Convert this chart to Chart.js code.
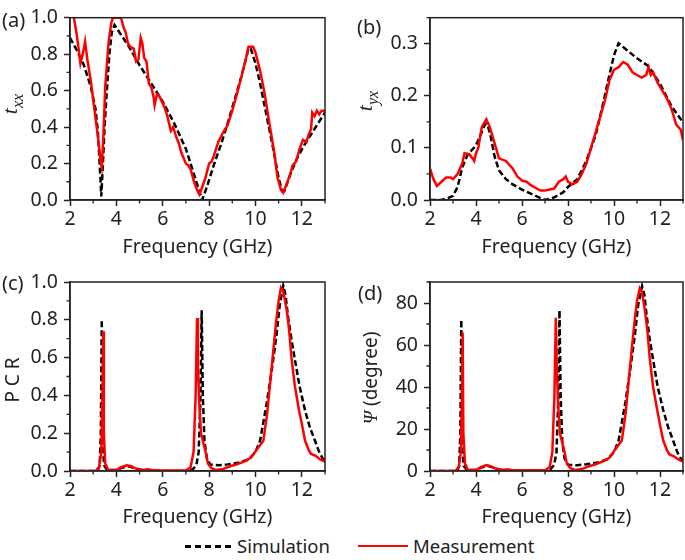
<!DOCTYPE html>
<html>
<head>
<meta charset="utf-8">
<script src="https://cdn.jsdelivr.net/npm/chart.js@4.4.1/dist/chart.umd.min.js"></script>
<style>
    body { margin: 0; width: 685px; height: 560px; position: relative; overflow: hidden;
           background: #fff; color: #222; font-family: "Noto Sans", sans-serif; }
    .cell { position: absolute; }
    .tag { position: absolute; font-size: 20px; line-height: 20px; }
    .ytitle { position: absolute; transform: translate(-50%, -50%) rotate(-90deg);
              white-space: nowrap; font-size: 19px; line-height: 20px; }
    .serif { font-family: "Liberation Serif", serif; font-style: italic; }
    .legline { position: absolute; }
    .legtext { position: absolute; font-size: 18.5px; line-height: 20px; }
</style>
</head>
<body>
<div class="cell" style="left:0;top:0;width:335px;height:260px"><canvas id="chartA"></canvas></div>
<div class="cell" style="left:345px;top:0;width:340px;height:260px"><canvas id="chartB"></canvas></div>
<div class="cell" style="left:0;top:260px;width:335px;height:270px"><canvas id="chartC"></canvas></div>
<div class="cell" style="left:345px;top:260px;width:340px;height:270px"><canvas id="chartD"></canvas></div>

<div class="tag" style="left:2px;top:10px">(a)</div>
<div class="tag" style="left:357px;top:17px">(b)</div>
<div class="tag" style="left:2px;top:273px">(c)</div>
<div class="tag" style="left:358px;top:283px">(d)</div>

<div class="ytitle serif" style="left:14px;top:104px;font-size:22px">t<sub style="font-size:16px">xx</sub></div>
<div class="ytitle serif" style="left:369px;top:101px;font-size:22px">t<sub style="font-size:16px">yx</sub></div>
<div class="ytitle" style="left:12px;top:380px">P C R</div>
<div class="ytitle" style="left:370px;top:378px"><span class="serif">&Psi;</span> (degree)</div>

<div class="legline" style="left:185px;top:545px;width:48px;height:2.5px;background:repeating-linear-gradient(90deg,#000 0 6.5px,transparent 6.5px 10px)"></div>
<div class="legtext" style="left:237px;top:536px">Simulation</div>
<div class="legline" style="left:358px;top:545px;width:50px;height:2px;background:#f00"></div>
<div class="legtext" style="left:413px;top:536px">Measurement</div>

<script>
const FONT = '"Noto Sans", sans-serif';
const INK = '#222';

// frequency axis, shared by all four panels
const xTicks = [2, 4, 6, 8, 10, 12];
const xMinor = [3, 5, 7, 9, 11, 13];

// (a) t_xx
const aSimFreq = [2.0, 2.3, 2.6, 2.9, 3.1, 3.2, 3.28, 3.35, 3.42, 3.5, 3.6, 3.7, 3.8, 3.92, 4.5, 5.0, 5.5, 6.0, 6.5, 7.0, 7.3, 7.5, 7.7, 7.9, 8.2, 8.5, 8.8, 9.1, 9.4, 9.6, 9.7, 9.8, 10.0, 10.2, 10.5, 10.8, 11.0, 11.15, 11.25, 11.5, 11.8, 12.1, 12.4, 12.7, 13.0];
const aSim = [0.89, 0.82, 0.74, 0.62, 0.5, 0.38, 0.2, 0.02, 0.2, 0.42, 0.62, 0.8, 0.92, 0.96, 0.85, 0.74, 0.64, 0.54, 0.42, 0.28, 0.16, 0.08, 0.0, 0.07, 0.19, 0.3, 0.42, 0.55, 0.68, 0.78, 0.83, 0.83, 0.75, 0.64, 0.45, 0.26, 0.12, 0.05, 0.05, 0.14, 0.23, 0.3, 0.36, 0.42, 0.48];
const aMeasFreq = [2.0, 2.17, 2.3, 2.45, 2.55, 2.65, 2.75, 2.9, 3.1, 3.25, 3.33, 3.37, 3.44, 3.52, 3.66, 3.78, 3.85, 4.0, 4.2, 4.3, 4.4, 4.5, 4.6, 4.75, 4.85, 4.95, 5.05, 5.12, 5.2, 5.3, 5.4, 5.5, 5.6, 5.65, 5.75, 5.85, 6.0, 6.1, 6.2, 6.35, 6.45, 6.6, 6.7, 6.8, 7.0, 7.1, 7.2, 7.35, 7.5, 7.58, 7.7, 7.85, 8.0, 8.1, 8.2, 8.4, 8.6, 8.8, 9.0, 9.2, 9.4, 9.6, 9.7, 9.9, 10.0, 10.2, 10.4, 10.6, 10.8, 10.95, 11.1, 11.2, 11.35, 11.5, 11.6, 11.75, 11.9, 12.05, 12.2, 12.3, 12.4, 12.45, 12.55, 12.65, 12.75, 12.85, 12.95, 13.0];
const aMeas = [1.08, 1.0, 0.9, 0.75, 0.8, 0.87, 0.77, 0.65, 0.45, 0.3, 0.2, 0.18, 0.35, 0.62, 0.86, 0.97, 1.0, 1.0, 1.0, 0.95, 0.92, 0.86, 0.84, 0.83, 0.76, 0.77, 0.89, 0.86, 0.78, 0.76, 0.64, 0.62, 0.57, 0.52, 0.58, 0.57, 0.53, 0.5, 0.46, 0.38, 0.4, 0.34, 0.31, 0.26, 0.2, 0.19, 0.17, 0.1, 0.05, 0.03, 0.07, 0.125, 0.2, 0.21, 0.24, 0.32, 0.37, 0.41, 0.49, 0.58, 0.68, 0.78, 0.84, 0.84, 0.81, 0.71, 0.58, 0.42, 0.27, 0.125, 0.055, 0.04, 0.09, 0.14, 0.19, 0.21, 0.28, 0.33, 0.32, 0.36, 0.39, 0.48, 0.46, 0.49, 0.47, 0.49, 0.49, 0.48];

// (b) t_yx
const bSimFreq = [2.0, 2.5, 2.8, 3.0, 3.2, 3.4, 3.6, 3.8, 4.0, 4.2, 4.4, 4.5, 4.65, 4.8, 5.0, 5.3, 5.6, 6.0, 6.5, 7.0, 7.4, 7.8, 8.0, 8.4, 8.8, 9.2, 9.5, 9.8, 10.0, 10.2, 10.5, 11.0, 11.5, 12.0, 12.5, 13.0];
const bSim = [0.0, 0.0, 0.004, 0.008, 0.025, 0.062, 0.084, 0.095, 0.105, 0.125, 0.146, 0.145, 0.12, 0.085, 0.057, 0.04, 0.03, 0.02, 0.01, 0.0, 0.005, 0.015, 0.025, 0.04, 0.075, 0.124, 0.18, 0.24, 0.278, 0.301, 0.29, 0.272, 0.257, 0.223, 0.18, 0.149];
const bMeasFreq = [2.0, 2.15, 2.3, 2.5, 2.7, 2.9, 3.0, 3.2, 3.4, 3.5, 3.7, 3.85, 3.92, 4.0, 4.1, 4.25, 4.45, 4.6, 4.8, 5.0, 5.3, 5.6, 5.8, 6.0, 6.2, 6.4, 6.6, 6.8, 7.0, 7.2, 7.4, 7.6, 7.8, 7.9, 8.0, 8.2, 8.4, 8.6, 8.8, 9.0, 9.2, 9.4, 9.6, 9.8, 10.0, 10.2, 10.4, 10.6, 10.8, 11.0, 11.2, 11.4, 11.5, 11.6, 11.7, 11.9, 12.1, 12.3, 12.5, 12.7, 12.9, 13.0];
const bMeas = [0.06, 0.04, 0.027, 0.035, 0.043, 0.043, 0.04, 0.05, 0.07, 0.09, 0.088, 0.08, 0.075, 0.09, 0.1, 0.14, 0.155, 0.14, 0.11, 0.08, 0.075, 0.06, 0.045, 0.037, 0.035, 0.028, 0.023, 0.018, 0.018, 0.02, 0.022, 0.035, 0.04, 0.045, 0.035, 0.03, 0.035, 0.05, 0.07, 0.1, 0.13, 0.16, 0.19, 0.23, 0.25, 0.255, 0.265, 0.26, 0.245, 0.24, 0.235, 0.24, 0.255, 0.24, 0.245, 0.225, 0.21, 0.195, 0.175, 0.145, 0.135, 0.115];

// (c) PCR
const cSimFreq = [2.0, 3.0, 3.2, 3.28, 3.33, 3.37, 3.41, 3.47, 3.6, 4.0, 4.2, 4.5, 4.8, 5.0, 6.0, 7.0, 7.3, 7.45, 7.55, 7.62, 7.68, 7.73, 7.8, 7.9, 8.04, 8.4, 8.8, 9.3, 9.7, 10.0, 10.2, 10.5, 10.7, 10.9, 11.05, 11.2, 11.3, 11.4, 11.55, 11.7, 11.9, 12.14, 12.35, 12.57, 12.75, 12.93, 13.0];
const cSim = [0, 0, 0.005, 0.03, 0.2, 0.8, 0.15, 0.03, 0.005, 0.005, 0.015, 0.025, 0.015, 0.008, 0, 0, 0.01, 0.03, 0.1, 0.35, 0.85, 0.4, 0.16, 0.07, 0.035, 0.03, 0.035, 0.045, 0.06, 0.1, 0.16, 0.37, 0.53, 0.71, 0.88, 0.98, 0.93, 0.82, 0.7, 0.59, 0.45, 0.32, 0.23, 0.16, 0.1, 0.06, 0.05];
const cMeasFreq = [2.0, 3.1, 3.25, 3.35, 3.4, 3.43, 3.46, 3.52, 3.65, 4.0, 4.2, 4.45, 4.65, 4.85, 5.0, 5.4, 5.6, 6.0, 6.5, 7.0, 7.2, 7.33, 7.42, 7.48, 7.52, 7.58, 7.65, 7.75, 7.85, 7.95, 8.1, 8.3, 8.6, 8.9, 9.2, 9.5, 9.8, 10.1, 10.34, 10.5, 10.7, 10.9, 11.0, 11.1, 11.2, 11.35, 11.45, 11.56, 11.7, 11.88, 12.0, 12.14, 12.3, 12.4, 12.6, 12.8, 13.0];
const cMeas = [0, 0, 0.02, 0.1, 0.4, 0.74, 0.2, 0.04, 0.005, 0.005, 0.02, 0.03, 0.025, 0.012, 0.005, 0.008, 0.004, 0.003, 0.003, 0.003, 0.02, 0.1, 0.4, 0.81, 0.55, 0.35, 0.2, 0.15, 0.1, 0.04, 0.015, 0.005, 0.01, 0.025, 0.035, 0.05, 0.07, 0.12, 0.16, 0.3, 0.55, 0.8, 0.9, 0.97, 0.95, 0.85, 0.75, 0.59, 0.45, 0.32, 0.25, 0.16, 0.11, 0.09, 0.08, 0.06, 0.05];

// (d) polarization rotation angle, degree
const dSimFreq = [2.0, 3.0, 3.2, 3.27, 3.32, 3.36, 3.4, 3.46, 3.6, 4.0, 4.2, 4.5, 4.8, 5.0, 6.0, 7.0, 7.25, 7.4, 7.5, 7.57, 7.63, 7.68, 7.75, 7.85, 8.0, 8.4, 8.8, 9.3, 9.7, 10.0, 10.2, 10.5, 10.7, 10.9, 11.05, 11.22, 11.32, 11.42, 11.55, 11.7, 11.9, 12.14, 12.35, 12.57, 12.75, 12.93, 13.0];
const dSim = [0, 0, 0.5, 2.5, 18, 72, 13, 2.5, 0.5, 0.5, 1.5, 2.5, 1.5, 0.7, 0, 0, 1, 3, 9, 32, 76.5, 36, 14, 6, 3, 2.7, 3.2, 4, 5.5, 9, 14.5, 33, 48, 64, 79, 88, 84, 74, 63, 53, 40, 29, 21, 14.5, 9, 5.5, 4.5];
const dMeasFreq = [2.0, 3.1, 3.25, 3.34, 3.39, 3.42, 3.45, 3.52, 3.65, 4.0, 4.2, 4.45, 4.65, 4.85, 5.0, 5.4, 5.6, 6.0, 6.5, 7.0, 7.2, 7.32, 7.41, 7.47, 7.51, 7.57, 7.65, 7.75, 7.85, 7.95, 8.1, 8.3, 8.6, 8.9, 9.2, 9.5, 9.8, 10.1, 10.34, 10.5, 10.7, 10.9, 11.0, 11.12, 11.22, 11.35, 11.45, 11.56, 11.7, 11.88, 12.0, 12.14, 12.3, 12.4, 12.6, 12.8, 13.0];
const dMeas = [0, 0, 2, 9, 36, 66, 18, 3.5, 0.5, 0.5, 1.8, 2.8, 2.2, 1.1, 0.5, 0.7, 0.4, 0.3, 0.3, 0.3, 1.8, 9, 36, 73, 50, 32, 18, 13.5, 9, 3.5, 1.3, 0.5, 0.9, 2.2, 3.2, 4.5, 6.3, 11, 14.5, 27, 50, 72, 81, 87, 85, 76, 67, 53, 40, 29, 22, 14.5, 10, 8, 7, 5.5, 4.5];

const unitTicks = [0, 0.2, 0.4, 0.6, 0.8, 1.0];
const unitMinor = [0.1, 0.3, 0.5, 0.7, 0.9];
const bTicks = [0, 0.1, 0.2, 0.3];
const bMinor = [0.05, 0.15, 0.25, 0.35];
const dTicks = [0, 20, 40, 60, 80];
const dMinor = [10, 30, 50, 70, 90];

// box around the plot + short minor ticks
const framePlugin = {
    id: 'frame',
    afterDraw(chart, args, opts) {
        const { ctx, chartArea: a } = chart;
        const x = chart.scales.x, y = chart.scales.y;
        ctx.save();
        ctx.strokeStyle = INK;
        ctx.lineWidth = 1.5;
        ctx.strokeRect(a.left, a.top, a.right - a.left, a.bottom - a.top);
        ctx.lineWidth = 1.3;
        ctx.beginPath();
        opts.xMinor.forEach(v => {
            const px = x.getPixelForValue(v);
            ctx.moveTo(px, a.bottom);
            ctx.lineTo(px, a.bottom + 3.5);
        });
        opts.yMinor.forEach(v => {
            const py = y.getPixelForValue(v);
            ctx.moveTo(a.left, py);
            ctx.lineTo(a.left - 3.5, py);
        });
        ctx.stroke();
        ctx.restore();
    }
};

function pairs(xs, ys) {
    return xs.map((f, i) => ({ x: f, y: ys[i] }));
}

function makePanel(id, p) {
    new Chart(document.getElementById(id), {
        type: 'line',
        data: {
            datasets: [
                {
                    label: 'Measurement',
                    data: pairs(p.measFreq, p.meas),
                    borderColor: '#ff0000',
                    borderWidth: 2.5,
                    pointRadius: 0,
                    tension: 0
                },
                {
                    label: 'Simulation',
                    data: pairs(p.simFreq, p.sim),
                    borderColor: '#000000',
                    borderWidth: 2.5,
                    borderDash: [6, 3],
                    pointRadius: 0,
                    tension: 0
                }
            ]
        },
        options: {
            responsive: true,
            maintainAspectRatio: false,
            animation: false,
            layout: { padding: { top: p.padTop, right: p.padRight, left: 0, bottom: 0 } },
            plugins: {
                legend: { display: false },
                tooltip: { enabled: false },
                frame: { xMinor: xMinor, yMinor: p.yMinor }
            },
            scales: {
                x: {
                    type: 'linear',
                    min: 2,
                    max: 13,
                    afterBuildTicks: s => { s.ticks = xTicks.map(v => ({ value: v })); },
                    afterFit: s => { s.height = p.xHeight; },
                    grid: { drawOnChartArea: false, tickLength: 6, tickColor: INK, tickWidth: 1.5 },
                    border: { color: INK, width: 1.5 },
                    ticks: { color: INK, font: { family: FONT, size: 19.5 }, padding: 2, maxRotation: 0, autoSkip: false },
                    title: {
                        display: true,
                        text: 'Frequency (GHz)',
                        color: INK,
                        font: { family: FONT, size: 19.5 },
                        padding: { top: 0, bottom: p.titlePad }
                    }
                },
                y: {
                    min: 0,
                    max: p.yMax,
                    afterBuildTicks: s => { s.ticks = p.yTicks.map(v => ({ value: v })); },
                    afterFit: s => { s.width = p.yWidth; },
                    grid: { drawOnChartArea: false, tickLength: 6, tickColor: INK, tickWidth: 1.5 },
                    border: { color: INK, width: 1.5 },
                    ticks: {
                        color: INK,
                        font: { family: FONT, size: 19.5 },
                        padding: 6,
                        autoSkip: false,
                        callback: v => v.toFixed(p.digits)
                    }
                }
            }
        },
        plugins: [framePlugin]
    });
}

makePanel('chartA', {
    simFreq: aSimFreq, sim: aSim, measFreq: aMeasFreq, meas: aMeas,
    yMax: 1.0, yTicks: unitTicks, yMinor: unitMinor, digits: 1,
    padTop: 11, padRight: 10, yWidth: 70, xHeight: 60, titlePad: 1
});
makePanel('chartB', {
    simFreq: bSimFreq, sim: bSim, measFreq: bMeasFreq, meas: bMeas,
    yMax: 0.35, yTicks: bTicks, yMinor: bMinor, digits: 1,
    padTop: 11, padRight: 2, yWidth: 85, xHeight: 60, titlePad: 1
});
makePanel('chartC', {
    simFreq: cSimFreq, sim: cSim, measFreq: cMeasFreq, meas: cMeas,
    yMax: 1.0, yTicks: unitTicks, yMinor: unitMinor, digits: 1,
    padTop: 22, padRight: 10, yWidth: 70, xHeight: 59, titlePad: 1
});
makePanel('chartD', {
    simFreq: dSimFreq, sim: dSim, measFreq: dMeasFreq, meas: dMeas,
    yMax: 90, yTicks: dTicks, yMinor: dMinor, digits: 0,
    padTop: 22, padRight: 2, yWidth: 85, xHeight: 59, titlePad: 1
});
</script>
</body>
</html>
